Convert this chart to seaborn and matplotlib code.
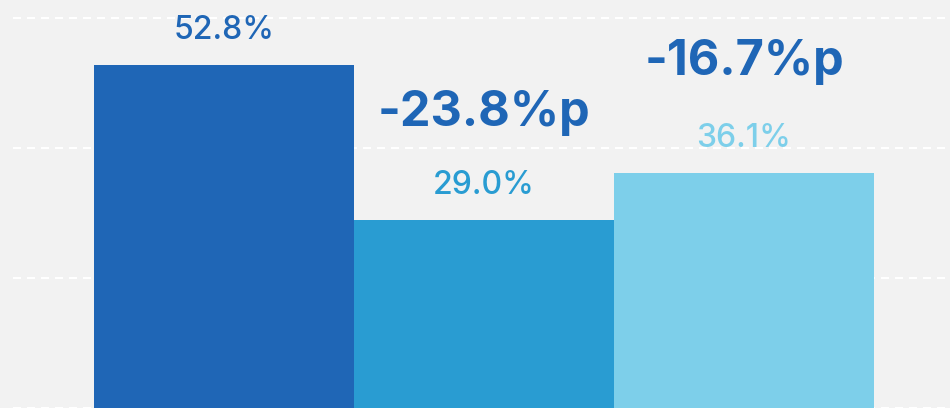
import matplotlib
matplotlib.use("Agg")
import matplotlib.pyplot as plt
import seaborn as sns
import pandas as pd

categories = ["기준", "비교 1", "비교 2"]
values = [52.8, 29.0, 36.1]
value_labels = ["52.8%", "29.0%", "36.1%"]
diff_labels = ["", "-23.8%p", "-16.7%p"]
bar_colors = ["#1f66b6", "#299cd2", "#7dcfea"]
diff_color = "#1f66b6"
grid_ticks = [0, 20, 40, 60]
diff_offsets_px = [0, 94, 98]

sns.set_theme(style="white")
plt.rcParams["font.family"] = ["Inter", "DejaVu Sans"]

df = pd.DataFrame({"cat": categories, "val": values})

fig = plt.figure(figsize=(9.5, 4.08), dpi=100, facecolor="#f2f2f2")
ax = fig.add_axes([13 / 950, 0, 1 - 13 / 950, 1])
ax.set_facecolor("#f2f2f2")

sns.barplot(data=df, x="cat", y="val", hue="cat", palette=bar_colors,
            width=1.0, saturation=1, legend=False, ax=ax, zorder=3,
            linewidth=0, edgecolor="none")

ax.set_xlim(-0.5 - 81 / 260, 2.5 + 76 / 260)
ax.set_ylim(0, 62.8)

for t in grid_ticks:
    ln = ax.axhline(t, color="white", lw=1.44, zorder=1)
    ln.set_dashes((4, 3))

for i, (v, lab, dl) in enumerate(zip(values, value_labels, diff_labels)):
    ax.annotate(lab, (i, v), xytext=(0, 26 * 0.72), textcoords="offset points",
                ha="center", va="baseline", fontsize=23, fontweight="medium",
                color=bar_colors[i], zorder=4)
    if dl:
        ax.annotate(dl, (i, v), xytext=(0, diff_offsets_px[i] * 0.72),
                    textcoords="offset points",
                    ha="center", va="baseline", fontsize=35, fontweight="bold",
                    color=diff_color, zorder=4)

ax.set_xticks([])
ax.set_yticks([])
ax.set_xlabel("")
ax.set_ylabel("")
for s in ax.spines.values():
    s.set_visible(False)

fig.savefig("out.png", dpi=100, facecolor="#f2f2f2")
